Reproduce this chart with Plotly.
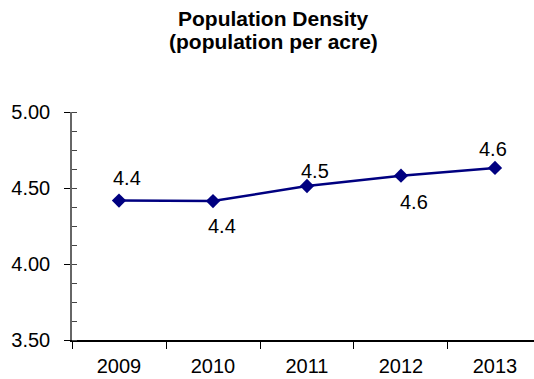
import plotly.graph_objects as go

years = ["2009", "2010", "2011", "2012", "2013"]
density = [4.417, 4.414, 4.513, 4.581, 4.632]
labels = ["4.4", "4.4", "4.5", "4.6", "4.6"]
# label offsets (styling only): pixel shifts relative to each marker
label_dx = [8, 9, 8, 13, -2]
label_dy = [23, -25, 15, -26, 19]

FONT = "Liberation Sans, Arial, sans-serif"
NAVY = "#000080"

PLOT_TOP, PLOT_BOTTOM = 112, 340
def paper_y(px):
    return (PLOT_BOTTOM - px) / (PLOT_BOTTOM - PLOT_TOP)

fig = go.Figure()
fig.add_trace(go.Scatter(
    x=years, y=density, mode="lines+markers",
    line=dict(color=NAVY, width=2.5),
    marker=dict(symbol="diamond", size=11, color=NAVY),
    hoverinfo="skip", showlegend=False,
))

for i, (y, t, dx, dy) in enumerate(zip(density, labels, label_dx, label_dy)):
    fig.add_annotation(x=i, y=y, xref="x", yref="y", text=t, showarrow=False,
                       xshift=dx, yshift=dy,
                       font=dict(family=FONT, size=20, color="#000"))

title_lines = ["<b>Population Density</b>", "<b>(population per acre)</b>"]
for line, py in zip(title_lines, [19, 42]):
    fig.add_annotation(xref="paper", yref="paper", x=(273 - 72) / 462, y=paper_y(py),
                       xanchor="center", yanchor="middle", text=line, showarrow=False,
                       font=dict(family=FONT, size=21, color="#000"))

fig.update_layout(
    width=534, height=379,
    margin=dict(l=72, r=0, t=PLOT_TOP, b=379 - PLOT_BOTTOM),
    paper_bgcolor="white", plot_bgcolor="white",
    font=dict(family=FONT, size=20, color="#000"),
)
fig.update_xaxes(
    type="category", range=[-0.5, 4.415],
    showgrid=False, zeroline=False,
    showline=True, linecolor="#000", linewidth=1.5,
    ticks="outside", ticklen=7, tickcolor="#000", tickwidth=1,
    tickson="boundaries", ticklabelstandoff=7,
    tickfont=dict(family=FONT, size=20, color="#000"),
    automargin=False,
)
fig.update_yaxes(
    range=[3.5, 5.0], dtick=0.5, tick0=0, tickformat=".2f",
    showgrid=False, zeroline=False,
    showline=True, linecolor="#666", linewidth=1.5,
    ticks="outside", ticklen=6, tickcolor="#000", tickwidth=1,
    ticklabelstandoff=10,
    minor=dict(dtick=0.125, ticks="inside", ticklen=5, tickcolor="#444", showgrid=False),
    tickfont=dict(family=FONT, size=20, color="#000"),
    automargin=False,
)

fig.write_html("out.html")
